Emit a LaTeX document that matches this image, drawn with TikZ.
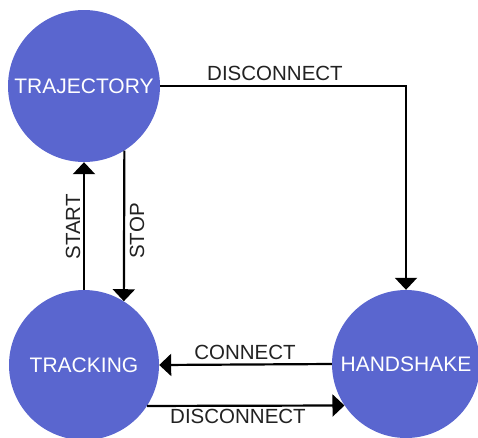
\documentclass[tikz,border=0pt]{standalone}
\usepackage{fontspec}
\setmainfont{Liberation Sans}
\usetikzlibrary{arrows.meta}
\definecolor{statefill}{RGB}{90,102,207}
\definecolor{lbltext}{RGB}{34,34,34}
\begin{document}
\begin{tikzpicture}[x=1pt,y=-1pt,
  state/.style={circle,fill=statefill,draw=none,text=white,inner sep=0pt,
    font=\fontsize{21}{24}\selectfont},
  conn/.style={line width=2.2pt,-{Triangle[width=22pt,length=12pt]}},
  lbl/.style={font=\fontsize{20.5}{24}\selectfont,text=lbltext,inner sep=0pt}]
\useasboundingbox (0,0) rectangle (478,437);
\node[state,minimum size=152pt] (traj) at (84,86) {TRAJECTORY};
\node[state,minimum size=150pt] (track) at (84,365) {TRACKING};
\node[state,minimum size=148pt] (hand) at (406,364) {HANDSHAKE};

\draw[conn] (traj.east) -| (hand.north);
\draw[conn] (track.north) -- (traj.south);
\draw[conn] (traj.-58) -- (track.58);
\draw[conn] (hand.west) -- (track.east);
\draw[conn] (track.-33) -- (hand.-146);

\node[lbl] (ldis1) at (275,73.5) {DISCONNECT};
\node[lbl,rotate=90] (lstart) at (73,227) {START};
\node[lbl,rotate=90] (lstop) at (137,231) {STOP};
\node[lbl] (lcon) at (245,352.5) {CONNECT};
\node[lbl] (ldis2) at (238,416.5) {DISCONNECT};
\end{tikzpicture}
\end{document}
